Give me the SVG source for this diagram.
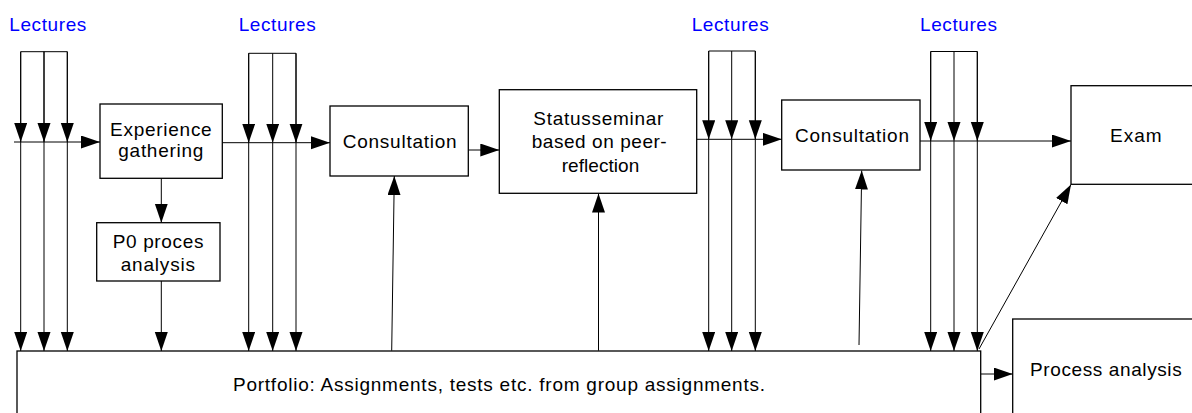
<svg xmlns="http://www.w3.org/2000/svg" width="1192" height="413" viewBox="0 0 1192 413">
<style>
.box{fill:#fff;stroke:#000;stroke-width:1.3}
.ln{fill:none;stroke:#000;stroke-width:1}
.t{font-family:"Liberation Sans",Arial,sans-serif;font-size:19px;fill:#000}
.lbl{font-family:"Liberation Sans",Arial,sans-serif;font-size:19px;fill:#0000ff}
</style>
<defs>
<marker id="ah" markerWidth="20" markerHeight="14" refX="19" refY="6.5" orient="auto" markerUnits="userSpaceOnUse">
<path d="M0,0 L19,6.5 L0,13 z" fill="#000"/>
</marker>
</defs>
<rect width="1192" height="413" fill="#fff"/>

<g id="connectors">
<!-- lecture group 1 -->
<path class="ln" d="M20.7,142 V51.7 H67.3 V142 M44,51.7 V142"/>
<path class="ln" marker-end="url(#ah)" d="M20.7,51.7 V142"/>
<path class="ln" marker-end="url(#ah)" d="M44,51.7 V142"/>
<path class="ln" marker-end="url(#ah)" d="M67.3,51.7 V142"/>
<path class="ln" marker-end="url(#ah)" d="M20.7,142 V351"/>
<path class="ln" marker-end="url(#ah)" d="M44,142 V351"/>
<path class="ln" marker-end="url(#ah)" d="M67.3,142 V351"/>
<!-- lecture group 2 -->
<path class="ln" d="M248.7,142.7 V53.3 H296 V142.7"/>
<path class="ln" marker-end="url(#ah)" d="M248.7,53.3 V142.7"/>
<path class="ln" marker-end="url(#ah)" d="M272.7,53.3 V142.7"/>
<path class="ln" marker-end="url(#ah)" d="M296,53.3 V142.7"/>
<path class="ln" marker-end="url(#ah)" d="M248.7,142.7 V351"/>
<path class="ln" marker-end="url(#ah)" d="M272.7,142.7 V351"/>
<path class="ln" marker-end="url(#ah)" d="M296,142.7 V351"/>
<!-- lecture group 3 -->
<path class="ln" d="M708.7,139.3 V51 H755.3 V139.3"/>
<path class="ln" marker-end="url(#ah)" d="M708.7,51 V139.3"/>
<path class="ln" marker-end="url(#ah)" d="M731.7,51 V139.3"/>
<path class="ln" marker-end="url(#ah)" d="M755.3,51 V139.3"/>
<path class="ln" marker-end="url(#ah)" d="M708.7,139.3 V351"/>
<path class="ln" marker-end="url(#ah)" d="M731.7,139.3 V351"/>
<path class="ln" marker-end="url(#ah)" d="M755.3,139.3 V351"/>
<!-- lecture group 4 -->
<path class="ln" d="M930.7,141 V51.5 H977.3 V141"/>
<path class="ln" marker-end="url(#ah)" d="M930.7,51.5 V141"/>
<path class="ln" marker-end="url(#ah)" d="M954,51.5 V141"/>
<path class="ln" marker-end="url(#ah)" d="M977.3,51.5 V141"/>
<path class="ln" marker-end="url(#ah)" d="M930.7,141 V351"/>
<path class="ln" marker-end="url(#ah)" d="M954,141 V351"/>
<path class="ln" marker-end="url(#ah)" d="M977.3,141 V351"/>
<!-- main flow -->
<path class="ln" marker-end="url(#ah)" d="M14,142 H100"/>
<path class="ln" marker-end="url(#ah)" d="M222.3,142.7 H330"/>
<path class="ln" marker-end="url(#ah)" d="M468.3,150 H499.3"/>
<path class="ln" marker-end="url(#ah)" d="M696.7,139.3 H781.7"/>
<path class="ln" marker-end="url(#ah)" d="M920,141 H1071"/>
<path class="ln" marker-end="url(#ah)" d="M980.7,374 H1012.7"/>
<path class="ln" marker-end="url(#ah)" d="M161.3,178.3 V222.7"/>
<path class="ln" marker-end="url(#ah)" d="M161.3,281 V351"/>
<!-- up arrows -->
<path class="ln" marker-end="url(#ah)" d="M391.7,350.7 L394.3,176"/>
<path class="ln" marker-end="url(#ah)" d="M598.5,350.7 V193.5"/>
<path class="ln" marker-end="url(#ah)" d="M859,345 L861.7,170.5"/>
<path class="ln" marker-end="url(#ah)" d="M979,349 L1071,184.5"/>
</g>

<g id="lectures-1"><text class="lbl" x="9.3" y="31" textLength="77" lengthAdjust="spacing">Lectures</text></g>
<g id="lectures-2"><text class="lbl" x="238.7" y="31" textLength="77" lengthAdjust="spacing">Lectures</text></g>
<g id="lectures-3"><text class="lbl" x="691.7" y="31" textLength="77" lengthAdjust="spacing">Lectures</text></g>
<g id="lectures-4"><text class="lbl" x="920" y="31" textLength="77" lengthAdjust="spacing">Lectures</text></g>

<g id="experience">
<rect class="box" x="100" y="104" width="122.3" height="74.3"/>
<text class="t" x="110" y="136" textLength="101.7" lengthAdjust="spacing">Experience</text>
<text class="t" x="118.3" y="157" textLength="85" lengthAdjust="spacing">gathering</text>
</g>

<g id="p0">
<rect class="box" x="96.7" y="222.7" width="123.3" height="58.3"/>
<text class="t" x="112.7" y="247.7" textLength="90.7" lengthAdjust="spacing">P0 proces</text>
<text class="t" x="120.7" y="270.7" textLength="74.3" lengthAdjust="spacing">analysis</text>
</g>

<g id="consultation-1">
<rect class="box" x="330" y="106" width="138.3" height="70"/>
<text class="t" x="342.7" y="148.3" textLength="114" lengthAdjust="spacing">Consultation</text>
</g>

<g id="statusseminar">
<rect class="box" x="499.3" y="89.7" width="197.4" height="103.6"/>
<text class="t" x="533.3" y="125" textLength="130" lengthAdjust="spacing">Statusseminar</text>
<text class="t" x="531.7" y="148.3" textLength="135" lengthAdjust="spacing">based on peer-</text>
<text class="t" x="561.7" y="171.7" textLength="77.6" lengthAdjust="spacing">reflection</text>
</g>

<g id="consultation-2">
<rect class="box" x="781.7" y="100" width="138.3" height="70"/>
<text class="t" x="795" y="142" textLength="114" lengthAdjust="spacing">Consultation</text>
</g>

<g id="exam">
<rect class="box" x="1071" y="85.7" width="140" height="98.6"/>
<text class="t" x="1110" y="141.7" textLength="51.7" lengthAdjust="spacing">Exam</text>
</g>

<g id="portfolio">
<rect class="box" x="17" y="351" width="963.7" height="80"/>
<text class="t" x="233" y="391" textLength="532" lengthAdjust="spacing">Portfolio: Assignments, tests etc. from group assignments.</text>
</g>

<g id="process-analysis">
<rect class="box" x="1012.7" y="319" width="200" height="110"/>
<text class="t" x="1030" y="376" textLength="151.7" lengthAdjust="spacing">Process analysis</text>
</g>
</svg>
